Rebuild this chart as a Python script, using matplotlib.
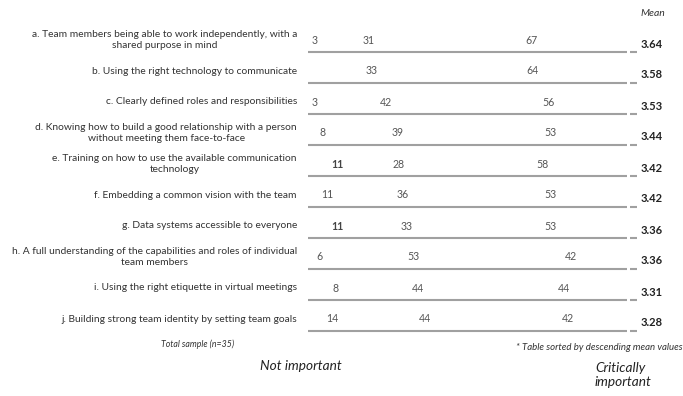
import matplotlib
matplotlib.use("Agg")
import matplotlib.pyplot as plt
import numpy as np

categories = [
    "a. Team members being able to work independently, with a\nshared purpose in mind",
    "b. Using the right technology to communicate",
    "c. Clearly defined roles and responsibilities",
    "d. Knowing how to build a good relationship with a person\nwithout meeting them face-to-face",
    "e. Training on how to use the available communication\ntechnology",
    "f. Embedding a common vision with the team",
    "g. Data systems accessible to everyone",
    "h. A full understanding of the capabilities and roles of individual\nteam members",
    "i. Using the right etiquette in virtual meetings",
    "j. Building strong team identity by setting team goals",
]
# unlabeled leading segment (estimated from label positions)
unlabeled = [0, 3, 0, 0, 3, 0, 3, 0, 4, 0]
low = [3, 0, 3, 8, 11, 11, 11, 6, 8, 14]
mid = [31, 33, 42, 39, 28, 36, 33, 53, 44, 44]
high = [67, 64, 56, 53, 58, 53, 53, 42, 44, 42]
means = ["3.64", "3.58", "3.53", "3.44", "3.42", "3.42", "3.36", "3.36", "3.31", "3.28"]
bold_low = [False, False, False, False, True, False, True, False, False, False]

plt.rcParams['font.family'] = ['Lato', 'DejaVu Sans']

W, H = 683, 396
fig = plt.figure(figsize=(W / 100, H / 100), dpi=100)
fig.patch.set_facecolor("white")

x0_px, x1_px = 310, 628
top_px, bot_px = 25, 340
ax = fig.add_axes([x0_px / W, 1 - bot_px / H, (x1_px - x0_px) / W, (bot_px - top_px) / H])
ax.set_xlim(0, 100)
row_px = 31
ytop = -15 / row_px
ax.set_ylim(ytop + (bot_px - top_px) / row_px, ytop)
ax.axis("off")

n = len(categories)
y = np.arange(n)
u = np.array(unlabeled, float)
l = np.array(low, float)
m = np.array(mid, float)
h = np.array(high, float)

ax.barh(y, u, left=0, height=0.6, color="white")
ax.barh(y, l, left=u, height=0.6, color="white")
ax.barh(y, m, left=u + l, height=0.6, color="white")
ax.barh(y, h, left=u + l + m, height=0.6, color="white")

px = 100 / (x1_px - x0_px)  # data units per pixel (x)
val_color = "#555555"
for i in range(n):
    if l[i] > 0:
        ax.text(u[i] + l[i] / 2, y[i], str(low[i]), ha="center", va="center",
                fontsize=7.6, color="#444444" if bold_low[i] else val_color,
                fontweight="bold" if bold_low[i] else "normal")
    ax.text(u[i] + l[i] + m[i] / 2, y[i], str(mid[i]), ha="center", va="center",
            fontsize=7.6, color=val_color)
    ax.text(u[i] + l[i] + m[i] + h[i] / 2 + 2, y[i], str(high[i]), ha="center", va="center",
            fontsize=7.6, color=val_color)
    # category label
    ax.text(-13 * px, y[i], categories[i], ha="right", va="center", fontsize=7.4,
            color="#333333", linespacing=1.22, multialignment="center", clip_on=False)
    # mean
    ax.text(331 * px, y[i] + 4 / row_px, means[i], ha="left", va="center", fontsize=8,
            color="#222222", fontweight="bold", clip_on=False)

# underlines
line_y = y + 12 / row_px
ax.hlines(line_y, -2 * px, 100 - 1 * px, color="#a0a0a0", lw=1.5, clip_on=False)
ax.hlines(line_y, 320 * px, 327 * px, color="#a0a0a0", lw=1.5, clip_on=False)

# annotations
fig.text(653 / W, 1 - 14 / H, "Mean", ha="center", va="center", fontsize=7.5,
         style="italic", color="#333333")
fig.text(198 / W, 1 - 344 / H, "Total sample (n=35)", ha="center", va="center",
         fontsize=6.3, style="italic", color="#333333")
fig.text(683 / W, 1 - 347 / H, "* Table sorted by descending mean values", ha="right",
         va="center", fontsize=6.9, style="italic", color="#333333")
fig.text(301 / W, 1 - 366 / H, "Not important", ha="center", va="center",
         fontsize=9.8, style="italic", color="#222222")
fig.text(595 / W, 1 - 375 / H, "Critically\nimportant", ha="left", va="center",
         fontsize=9.8, style="italic", color="#222222", linespacing=1.3)

fig.savefig("out.png", dpi=100, facecolor="white")
